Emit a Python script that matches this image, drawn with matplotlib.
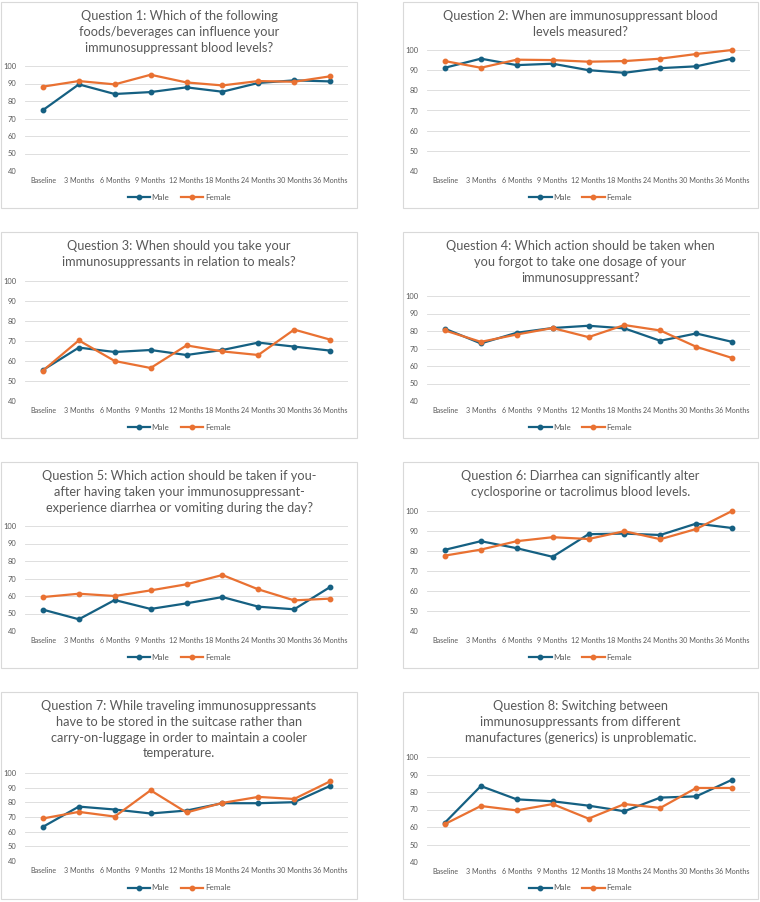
import matplotlib.pyplot as plt
from matplotlib.patches import Rectangle

plt.rcParams['font.family'] = ['Lato', 'DejaVu Sans']

months = ["Baseline", "3 Months", "6 Months", "9 Months", "12 Months",
          "18 Months", "24 Months", "30 Months", "36 Months"]

titles = [
    "Question 1: Which of the following\nfoods/beverages can influence your\nimmunosuppressant blood levels?",
    "Question 2: When are immunosuppressant blood\nlevels measured?",
    "Question 3: When should you take your\nimmunosuppressants in relation to meals?",
    "Question 4: Which action should be taken when\nyou forgot to take one dosage of your\nimmunosuppressant?",
    "Question 5: Which action should be taken if you-\nafter having taken your immunosuppressant-\nexperience diarrhea or vomiting during the day?",
    "Question 6: Diarrhea can significantly alter\ncyclosporine or tacrolimus blood levels.",
    "Question 7: While traveling immunosuppressants\nhave to be stored in the suitcase rather than\ncarry-on-luggage in order to maintain a cooler\ntemperature.",
    "Question 8: Switching between\nimmunosuppressants from different\nmanufactures (generics) is unproblematic.",
]

q1_male = [74.8, 89.5, 84.0, 85.1, 87.8, 85.3, 90.3, 91.8, 91.2]
q1_female = [88.2, 91.4, 89.5, 95.0, 90.6, 88.9, 91.4, 91.0, 94.1]
q2_male = [91.2, 95.7, 92.5, 93.2, 90.0, 88.7, 91.0, 91.9, 95.7]
q2_female = [94.5, 91.2, 95.2, 95.0, 94.2, 94.5, 95.7, 98.0, 100.0]
q3_male = [55.5, 66.7, 64.5, 65.5, 63.0, 65.5, 69.2, 67.2, 65.2]
q3_female = [55.2, 70.3, 60.0, 56.5, 67.8, 64.8, 63.0, 75.7, 70.7]
q4_male = [81.3, 72.9, 79.0, 81.7, 83.0, 81.5, 74.4, 78.6, 73.8]
q4_female = [80.3, 73.8, 78.0, 81.7, 76.5, 83.4, 80.3, 71.0, 64.6]
q5_male = [52.2, 46.7, 57.7, 52.6, 55.8, 59.4, 53.9, 52.4, 65.1]
q5_female = [59.4, 61.3, 60.0, 63.2, 66.7, 72.0, 63.8, 57.5, 58.5]
q6_male = [80.6, 84.9, 81.4, 77.1, 88.4, 88.7, 88.0, 93.7, 91.5]
q6_female = [77.7, 80.7, 84.9, 86.9, 86.0, 89.9, 85.9, 91.0, 100.0]
q7_male = [63.3, 77.1, 75.1, 72.4, 74.4, 79.4, 79.4, 80.1, 91.2]
q7_female = [69.0, 73.5, 70.3, 88.2, 73.1, 79.6, 83.7, 82.3, 94.3]
q8_male = [62.5, 83.4, 75.8, 74.7, 72.2, 69.0, 76.8, 77.5, 87.0]
q8_female = [61.7, 72.0, 69.5, 73.1, 64.8, 73.1, 70.9, 82.3, 82.3]

male = [q1_male, q2_male, q3_male, q4_male, q5_male, q6_male, q7_male, q8_male]
female = [q1_female, q2_female, q3_female, q4_female,
          q5_female, q6_female, q7_female, q8_female]

W, H = 760, 902
MALE_COLOR = "#156082"
FEMALE_COLOR = "#E97132"
TEXT_COLOR = "#595959"
GRID_COLOR = "#d9d9d9"

# panel boxes and plot area tops (pixels, top-left origin)
boxes = [(1, 2, 357, 208), (403, 2, 758, 208),
         (1, 232, 357, 438), (403, 232, 758, 438),
         (1, 462, 357, 668), (403, 462, 758, 668),
         (1, 692, 357, 899), (403, 692, 758, 899)]
plot_tops = [66, 50, 281, 296, 526, 511, 773, 757]
plot_bottoms = [171, 171, 401, 401, 631, 631, 861, 862]


def fig_rect(x0, y0, x1, y1):
    return [x0 / W, 1 - y1 / H, (x1 - x0) / W, (y1 - y0) / H]


fig = plt.figure(figsize=(W / 100, H / 100), dpi=100)

for i in range(8):
    bx0, by0, bx1, by1 = boxes[i]
    fig.patches.append(Rectangle((bx0 / W, 1 - by1 / H), (bx1 - bx0) / W,
                                 (by1 - by0) / H, transform=fig.transFigure,
                                 fill=False, edgecolor=GRID_COLOR, lw=0.8))

    cx = (bx0 + bx1) / 2
    fig.text(cx / W, 1 - (by0 + 8) / H, titles[i], ha="center", va="top",
             fontsize=9.2, color=TEXT_COLOR, linespacing=1.38)

    ax = fig.add_axes(fig_rect(bx0 + 24, plot_tops[i], bx0 + 347, plot_bottoms[i]))
    x = list(range(len(months)))
    ax.plot(x, male[i], color=MALE_COLOR, marker="o", ms=3.2, lw=1.6,
            label="Male", clip_on=False)
    ax.plot(x, female[i], color=FEMALE_COLOR, marker="o", ms=3.2, lw=1.6,
            label="Female", clip_on=False)

    ax.set_xlim(-0.5, 8.5)
    ax.set_ylim(40, 100)
    ax.set_yticks(range(40, 101, 10))
    ax.set_xticks(x)
    ax.set_xticklabels(months)
    ax.tick_params(length=0, labelcolor=TEXT_COLOR)
    ax.tick_params(axis="x", pad=4, labelsize=5.1)
    ax.tick_params(axis="y", pad=6, labelsize=5.4)
    ax.grid(axis="y", color=GRID_COLOR, lw=0.6)
    ax.set_axisbelow(True)
    for s in ax.spines.values():
        s.set_visible(False)

    ax.legend(loc="center", bbox_to_anchor=(cx / W, 1 - (by1 - 11) / H),
              bbox_transform=fig.transFigure, ncol=2, frameon=False,
              fontsize=5.8, labelcolor=TEXT_COLOR, handlelength=2.8,
              handletextpad=0.2, columnspacing=1.4, borderpad=0)

fig.savefig("out.png", dpi=100)
